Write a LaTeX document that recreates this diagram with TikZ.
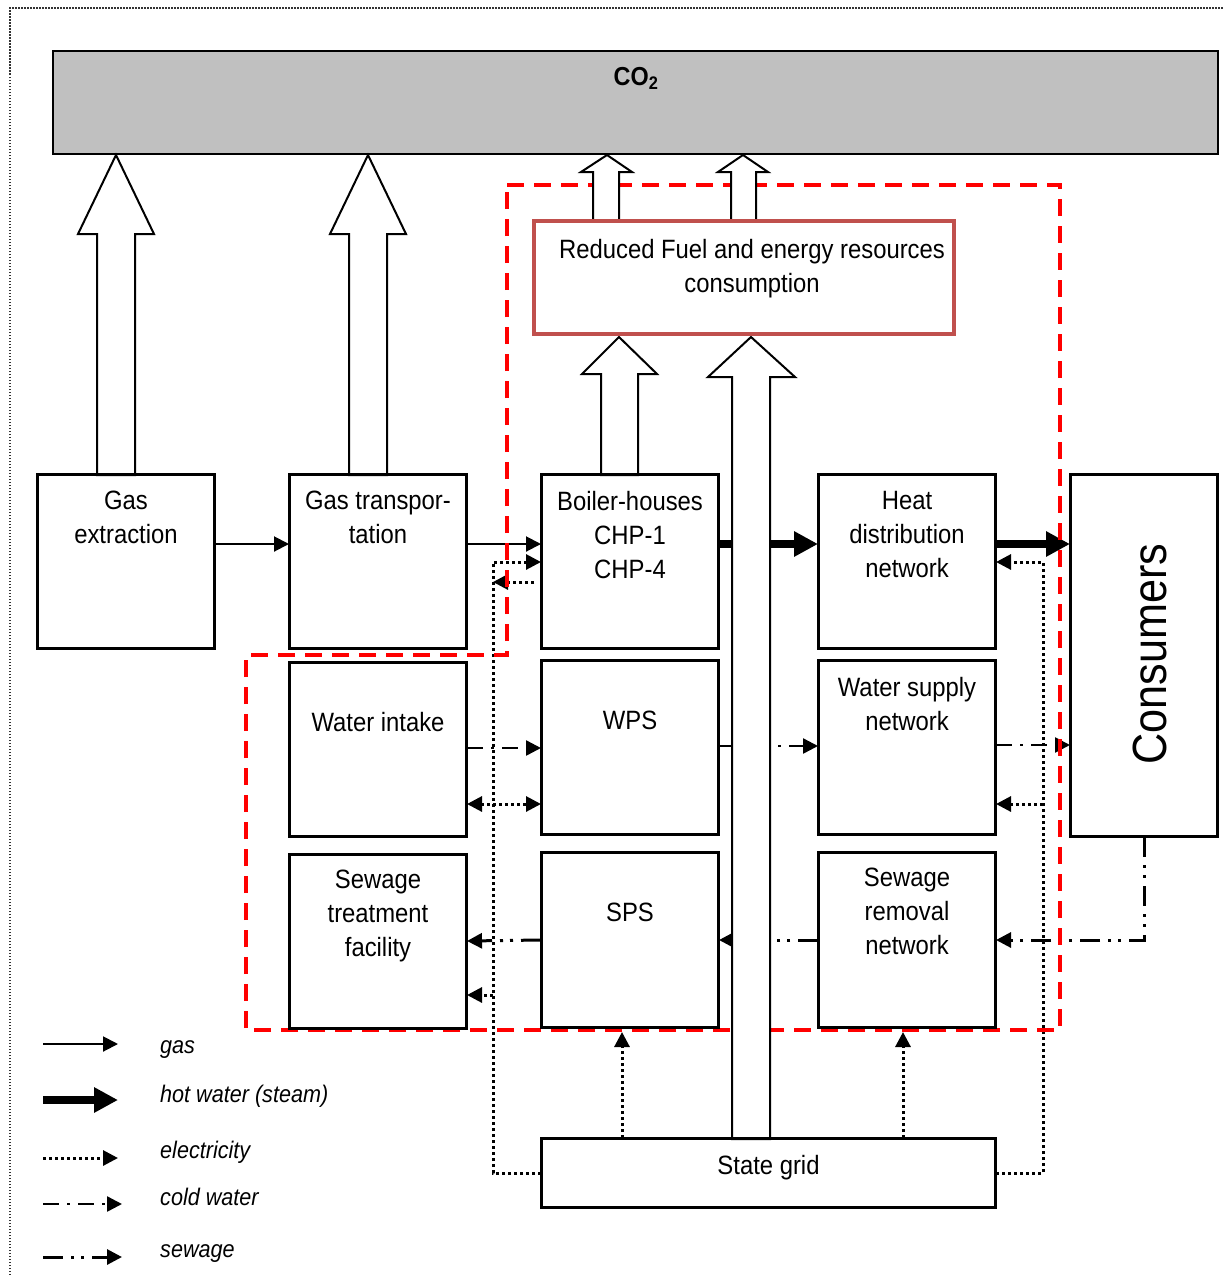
\documentclass[tikz,border=0pt]{standalone}
\usepackage{fontspec}
\setmainfont{Liberation Sans}[FakeStretch=0.9]
\usetikzlibrary{arrows.meta,calc}
\definecolor{redbrown}{HTML}{C0504D}
\definecolor{co2gray}{HTML}{C0C0C0}
\definecolor{dashred}{HTML}{FF0000}
\begin{document}
\begin{tikzpicture}[x=1pt,y=-1pt,
  box/.style={draw,line width=2pt,fill=white,inner sep=0,minimum width=176pt,minimum height=173pt},
  txt/.style={inner sep=0,align=center,font=\fontsize{26.5}{34}\selectfont,anchor=north},
  legtxt/.style={inner sep=0,anchor=base west,font=\itshape\fontsize{24}{28}\selectfont},
  tip/.style={-{Triangle[length=15pt,width=15pt]}},
  gasl/.style={line width=2pt,tip},
  hotl/.style={line width=8pt,-{Triangle[length=24pt,width=24pt]}},
  elec/.style={line width=3pt,dash pattern=on 3pt off 3pt,tip},
  cold/.style={line width=2.5pt,dash pattern=on 16pt off 8pt on 3pt off 8pt,tip},
  sew/.style={line width=3pt,dash pattern=on 20pt off 8pt on 3pt off 7pt on 3pt off 8pt,tip},
  hollow/.style={draw,fill=white,line width=2pt,line join=miter},
  zone/.style={draw=dashred,line width=3.5pt,dash pattern=on 17pt off 10pt}]
\useasboundingbox (0,0) rectangle (1224,1275);
% outer dotted frame
\draw[line width=1.5pt,dash pattern=on 1.5pt off 1.5pt,black!80] (10,1275) -- (10,8) -- (1224,8);
% CO2 box
\node[draw,line width=2pt,fill=co2gray,inner sep=0,minimum width=1165pt,minimum height=103pt] (co2) at (635.5,102.5) {};
% boxes
\path
  (126,561.5) node[box] (gasx) {}
  (378,561.5) node[box] (gast) {}
  (630,561.5) node[box] (boil) {}
  (907,561.5) node[box] (heat) {}
  (1144,655.5) node[box,minimum width=146pt,minimum height=361pt] (cons) {}
  (378,749.5) node[box] (wint) {}
  (630,747.5) node[box] (wps) {}
  (907,747.5) node[box] (wsn) {}
  (378,941.5) node[box] (stf) {}
  (630,940) node[box,minimum height=174pt] (sps) {}
  (907,940) node[box,minimum height=174pt] (srn) {}
  (768.5,1173) node[box,minimum width=453pt,minimum height=68pt] (grid) {};
% gas
\draw[gasl] (gasx.east |- 0,544) -- (gast.west |- 0,544);
\draw[gasl] (gast.east |- 0,544) -- (boil.west |- 0,544);
% hot water
\draw[hotl] (boil.east |- 0,544) -- (heat.west |- 0,544);
\draw[hotl] (heat.east |- 0,544) -- (cons.west |- 0,544);
% electricity
\coordinate (eL1) at (493,562);
\coordinate (eL2) at (493,582);
\coordinate (eL3) at (493,995);
\coordinate (eR1) at (1043,562);
\coordinate (eR2) at (1043,804);
\draw[elec] (grid.west) -| (eL1) -- (boil.west |- eL1);
\draw[elec] ([xshift=-7pt]boil.west |- eL2) -- (eL2);
\draw[elec] (eL3) -- (stf.east |- eL3);
\draw[elec,{Triangle[length=15pt,width=15pt]}-{Triangle[length=15pt,width=15pt]}] (wint.east |- 0,804) -- (wps.west |- 0,804);
\draw[elec] (grid.east) -| (eR1) -- (heat.east |- eR1);
\draw[elec] (eR2) -- (wsn.east |- eR2);
\draw[elec] (grid.north -| 622,0) -- ([yshift=-4pt]sps.south -| 622,0);
\draw[elec] (grid.north -| 903,0) -- ([yshift=-4pt]srn.south -| 903,0);
% cold water
\draw[cold] (wint.east |- 0,748) -- (wps.west |- 0,748);
\draw[cold] (wps.east |- 0,746) -- (wsn.west |- 0,746);
\draw[cold] (wsn.east |- 0,745) -- (cons.west |- 0,745);
% sewage
\draw[sew] (cons.south -| 1144,0) |- (srn.east |- 0,940);
\draw[sew] (srn.west |- 0,940) -- (sps.east |- 0,940);
\draw[sew] (sps.west |- 0,940) -- (stf.east |- 0,941);
% red dashed zone
\draw[zone] (507,185) -- (1060,185) -- (1060,1030) -- (246,1030) -- (246,655) -- (507,655) -- cycle;
% hollow block arrows
\draw[hollow] (97,475) -- (97,234) -- (78,234) -- (116,155) -- (154,234) -- (135,234) -- (135,475) -- cycle;
\draw[hollow] (349,475) -- (349,234) -- (330,234) -- (368,155) -- (406,234) -- (387,234) -- (387,475) -- cycle;
\draw[hollow] (593,221) -- (593,172) -- (581,172) -- (607,155) -- (632,172) -- (619,172) -- (619,221) -- cycle;
\draw[hollow] (731,221) -- (731,172) -- (718,172) -- (743,155) -- (768,172) -- (756,172) -- (756,221) -- cycle;
\draw[hollow] (601,475) -- (601,374) -- (582,374) -- (619,337) -- (657,374) -- (638,374) -- (638,475) -- cycle;
\draw[hollow] (732,1139) -- (732,377) -- (708,377) -- (751,337) -- (795,377) -- (770,377) -- (770,1139) -- cycle;
% reduced box
\node[draw=redbrown,line width=4pt,fill=white,inner sep=0,minimum width=420pt,minimum height=113pt] (red) at (744,277.5) {};
% redraw box outlines on top
\foreach \n in {gasx,gast,boil,heat,cons,wint,wps,wsn,stf,sps,srn,grid}
  \draw[line width=2pt] (\n.north west) rectangle (\n.south east);
% texts
\node[inner sep=0,font=\bfseries\fontsize{26}{30}\selectfont] (co2t) at (636,78) {CO\textsubscript{2}};
\node[txt] (redt) at (752,239) {Reduced Fuel and energy resources\\consumption};
\node[txt] (gasxt) at (126,491) {Gas\\extraction};
\node[txt] (gastt) at (378,491) {Gas transpor-\\tation};
\node[txt] (boilt) at (630,491) {Boiler-houses\\CHP-1\\CHP-4};
\node[txt] (heatt) at (907,491) {Heat\\distribution\\network};
\node[txt] (wintt) at (378,712) {Water intake};
\node[txt] (wpst) at (630,711) {WPS};
\node[txt] (wsnt) at (907,677) {Water supply\\network};
\node[txt] (stft) at (378,870) {Sewage\\treatment\\facility};
\node[txt] (spst) at (630,903) {SPS};
\node[txt] (srnt) at (907,868) {Sewage\\removal\\network};
\node[txt] (gridt) at (768.5,1155) {State grid};
\node[inner sep=0,rotate=90,font=\fontsize{48}{50}\selectfont] (const) at (1150,654) {Consumers};
% legend
\coordinate (l1a) at (43,1044); \coordinate (l1b) at (118,1044);
\coordinate (l2a) at (43,1100); \coordinate (l2b) at (118,1100);
\coordinate (l3a) at (43,1158); \coordinate (l3b) at (118,1158);
\coordinate (l4a) at (43,1204); \coordinate (l4b) at (122,1204);
\coordinate (l5a) at (43,1257); \coordinate (l5b) at (122,1257);
\draw[gasl] (l1a) -- (l1b);
\draw[hotl] (l2a) -- (l2b);
\draw[elec] (l3a) -- (l3b);
\draw[cold] (l4a) -- (l4b);
\draw[sew] (l5a) -- (l5b);
\node[legtxt] (lt1) at (160,1053) {gas};
\node[legtxt] (lt2) at (160,1102) {hot water (steam)};
\node[legtxt] (lt3) at (160,1158) {electricity};
\node[legtxt] (lt4) at (160,1205) {cold water};
\node[legtxt] (lt5) at (160,1257) {sewage};
\end{tikzpicture}
\end{document}
